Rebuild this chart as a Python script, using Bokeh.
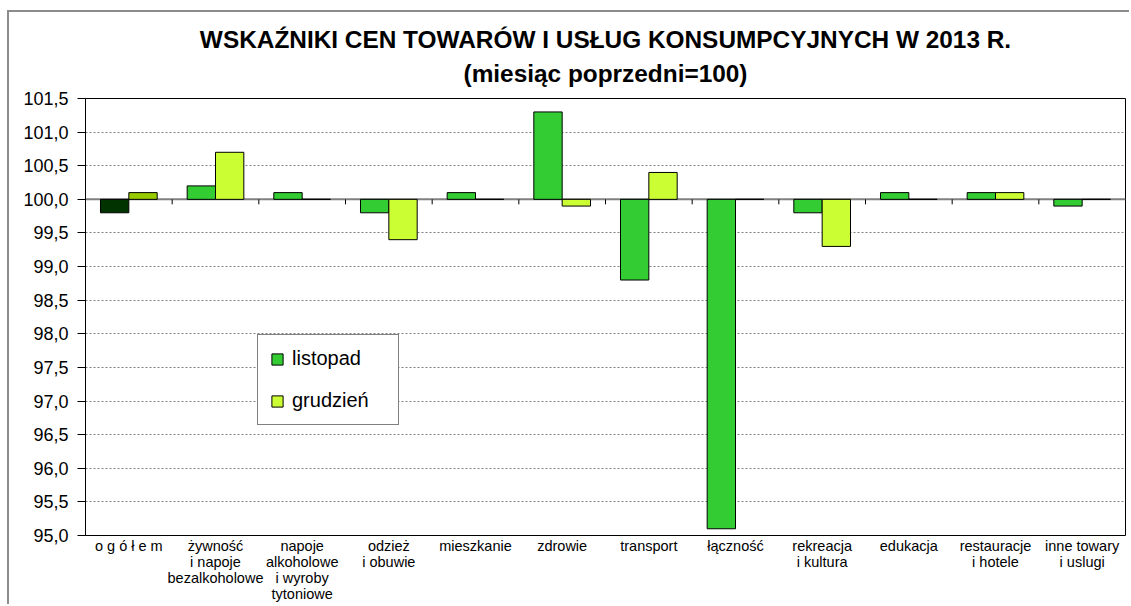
from bokeh.plotting import figure
from bokeh.models import (ColumnDataSource, Range1d, FixedTicker, CustomJSTickFormatter,
                          Span, Legend, LegendItem, Title)
from bokeh.embed import file_html
from bokeh.resources import INLINE

# ---------------- data ----------------
categories = [
    "o g ó ł e m",
    "żywność\ni napoje\nbezalkoholowe",
    "napoje\nalkoholowe\ni wyroby\ntytoniowe",
    "odzież\ni obuwie",
    "mieszkanie",
    "zdrowie",
    "transport",
    "łączność",
    "rekreacja\ni kultura",
    "edukacja",
    "restauracje\ni hotele",
    "inne towary\ni uslugi",
]
listopad = [99.8, 100.2, 100.1, 99.8, 100.1, 101.3, 98.8, 95.1, 99.8, 100.1, 100.1, 99.9]
grudzien = [100.1, 100.7, 100.0, 99.4, 100.0, 99.9, 100.4, 100.0, 99.3, 100.0, 100.1, 100.0]
y_ticks = [95.0, 95.5, 96.0, 96.5, 97.0, 97.5, 98.0, 98.5, 99.0, 99.5, 100.0, 100.5, 101.0, 101.5]
series_names = ["listopad", "grudzień"]
title_lines = ["WSKAŹNIKI CEN TOWARÓW I USŁUG KONSUMPCYJNYCH W 2013 R.",
               "(miesiąc poprzedni=100)"]
base_value = 100.0

# ---------------- styles ----------------
FONT = "Liberation Sans"
C_LIS, C_LIS_FIRST = "#33CC33", "#003300"
C_GRU, C_GRU_FIRST = "#CCFF33", "#99CC00"
BAR_W = 0.327
W, H = 1122, 594
MB_L, MB_R, MB_T, MB_B = 76, 6, 86, 71
n = len(categories)
y0, y1 = y_ticks[0], y_ticks[-1]
frame_h = H - MB_T - MB_B
ppu = frame_h / (y1 - y0)  # pixels per unit on y

p = figure(width=W, height=H, x_range=Range1d(-0.5, n - 0.5), y_range=Range1d(y0, y1),
           output_backend="svg", toolbar_location=None, title=None,
           min_border_left=MB_L, min_border_right=MB_R, min_border_top=MB_T,
           min_border_bottom=MB_B, background_fill_color="white", border_fill_color="white")
p.margin = (12, 0, 0, 9)
p.styles = {"box-shadow": "-2px -2px 0 0 #8c8c8c"}
p.outline_line_color = "black"
p.outline_line_width = 1

# y axis
p.yaxis.ticker = FixedTicker(ticks=y_ticks)
p.yaxis.formatter = CustomJSTickFormatter(code="return tick.toFixed(1).replace('.', ',');")
p.yaxis.major_label_text_font = FONT
p.yaxis.major_label_text_font_size = "18px"
p.yaxis.major_label_text_color = "black"
p.yaxis.major_tick_out = 8
p.yaxis.major_tick_in = 0
p.yaxis.minor_tick_line_color = None
p.yaxis.major_label_standoff = 9
p.yaxis.axis_line_color = "black"
p.yaxis.major_tick_line_color = "black"

# x axis (category names)
p.xaxis.ticker = FixedTicker(ticks=list(range(n)))
p.xaxis.major_label_overrides = {i: c for i, c in enumerate(categories)}
p.xaxis.major_label_text_font = FONT
p.xaxis.major_label_text_font_size = "14.5px"
p.xaxis.major_label_text_color = "black"
p.xaxis.major_label_text_line_height = 1.0
p.xaxis.major_tick_line_color = None
p.xaxis.major_tick_out = 0
p.xaxis.major_tick_in = 0
p.xaxis.minor_tick_line_color = None
p.xaxis.axis_line_color = None
p.xaxis.major_label_standoff = 2

p.xgrid.visible = False
p.ygrid.ticker = FixedTicker(ticks=y_ticks)
p.ygrid.grid_line_color = "#808080"
p.ygrid.grid_line_dash = "2 2"
p.ygrid.grid_line_width = 1

# baseline at 100
p.add_layout(Span(location=base_value, dimension="width", line_color="#808080",
                  line_width=2, level="underlay"))

# bars
idx = list(range(n))
src_l = ColumnDataSource(dict(
    x=[i - BAR_W / 2 for i in idx], top=listopad, bottom=[base_value] * n,
    color=[C_LIS_FIRST] + [C_LIS] * (n - 1)))
src_g = ColumnDataSource(dict(
    x=[i + BAR_W / 2 for i in idx], top=grudzien, bottom=[base_value] * n,
    color=[C_GRU_FIRST] + [C_GRU] * (n - 1)))
r_l = p.vbar(x="x", width=BAR_W, top="top", bottom="bottom", fill_color="color",
             line_color="black", line_width=1, source=src_l)
r_g = p.vbar(x="x", width=BAR_W, top="top", bottom="bottom", fill_color="color",
             line_color="black", line_width=1, source=src_g)

# category tick marks on the 100 line
bx = [i + 0.5 for i in range(n - 1)]
TICK_PX = 5
p.segment(x0=bx, x1=bx, y0=[base_value] * len(bx), y1=[base_value - TICK_PX / ppu] * len(bx),
          line_color="black", line_width=1)

# title (second line first: it sits closest to the plot)
p.add_layout(Title(text=title_lines[1], align="center", text_font=FONT,
                   text_font_size="24.4px", text_font_style="bold",
                   text_color="black", standoff=23), "above")
p.add_layout(Title(text=title_lines[0], align="center", text_font=FONT,
                   text_font_size="24.4px", text_font_style="bold",
                   text_color="black", standoff=-12), "above")

# legend
legend = Legend(items=[LegendItem(label=series_names[0], renderers=[r_l], index=1),
                       LegendItem(label=series_names[1], renderers=[r_g], index=1)],
                location=(172, 110), orientation="vertical",
                border_line_color="black", border_line_width=1,
                background_fill_color="white", background_fill_alpha=1,
                label_text_font=FONT, label_text_font_size="20px",
                label_text_color="black", padding=12, spacing=19,
                glyph_width=14, glyph_height=14, label_standoff=8,
                label_width=94, margin=0)
p.add_layout(legend, "center")

open("out.html", "w").write(file_html(p, INLINE))
